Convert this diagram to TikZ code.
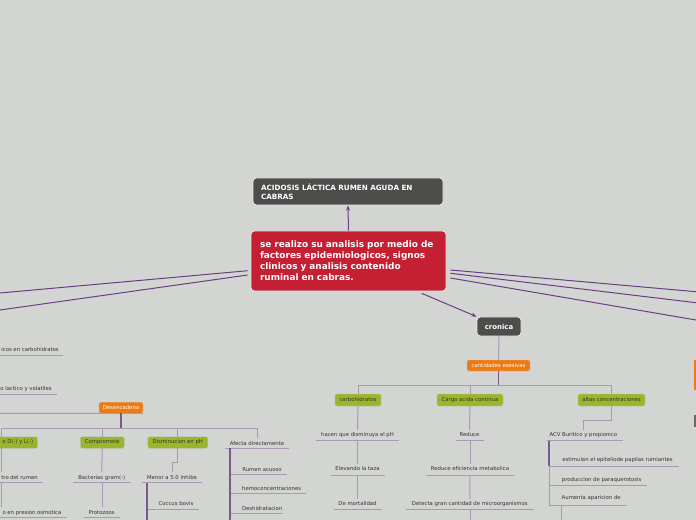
\documentclass[tikz,border=0pt]{standalone}
\usepackage{fontspec}
\setmainfont{DejaVu Sans}
\usetikzlibrary{arrows.meta}
\definecolor{bg}{RGB}{211,213,210}
\definecolor{darkbox}{RGB}{77,77,75}
\definecolor{redbox}{RGB}{197,31,52}
\definecolor{orangebox}{RGB}{238,122,18}
\definecolor{greenbox}{RGB}{155,182,43}
\definecolor{mainline}{RGB}{106,62,132}
\definecolor{treeline}{RGB}{168,153,180}
\definecolor{thickline}{RGB}{125,87,144}
\definecolor{leaftext}{RGB}{50,50,50}
\definecolor{boxedge}{RGB}{235,235,235}
\def\pw#1{#1*0.75pt}
\begin{document}
\begin{tikzpicture}[x=0.75pt,y=-0.75pt,
  bigbox/.style={rounded corners=2.5pt, inner ysep=0pt, draw=boxedge, line width=0.6pt},
  darkn/.style={bigbox, fill=darkbox, text=white},
  redn/.style={bigbox, fill=redbox, text=white},
  tag/.style={rounded corners=1.5pt, inner sep=0pt, font=\fontsize{4}{5}\selectfont, draw=black!25, line width=0.3pt},
  orangetag/.style={tag, fill=orangebox, text=white},
  greentag/.style={tag, fill=greenbox, text=leaftext},
  leaf/.style={inner xsep=0pt, inner ysep=2pt, font=\fontsize{4}{5}\selectfont, text=leaftext, anchor=base},
  leafe/.style={leaf, anchor=base east},
  conn/.style={draw=treeline, line width=0.75pt},
  thickc/.style={draw=thickline, line width=1.3pt},
  uline/.style={draw=treeline, line width=0.75pt},
  link/.style={draw=mainline, line width=0.75pt},
  arr/.style={link, -{Stealth[length=4pt,width=3pt]}}
]
\useasboundingbox (0,0) rectangle (696,520);
\fill[bg] (0,0) rectangle (696,520);

% ---------- main nodes ----------
\node[darkn, minimum width=\pw{190}, minimum height=\pw{27}, inner xsep=\pw{8}, text width=\pw{174}, align=left,
      font=\fontsize{5.4}{6.6}\selectfont\bfseries] (title) at (348,191.5)
      {ACIDOSIS LÁCTICA RUMEN AGUDA EN\\CABRAS};
\node[redn, minimum width=\pw{195}, minimum height=\pw{60}, inner xsep=\pw{9}, text width=\pw{177}, align=left,
      font=\fontsize{6.7}{8.3}\selectfont\bfseries] (main) at (348.5,261)
      {se realizo su analisis por medio de\\factores epidemiologicos, signos\\clinicos y analisis contenido\\ruminal en cabras.};
\node[darkn, minimum width=\pw{44}, minimum height=\pw{19}, inner xsep=0pt,
      font=\fontsize{5.2}{6}\selectfont\bfseries] (cronica) at (499,326.5) {cronica};

\draw[arr] (main.north) -- (title.south);
\draw[arr] ([xshift=55pt,yshift=-1.5pt]main.south) -- (cronica.north west);

% free ends at the picture edges
\coordinate (eL1) at (0,293);
\coordinate (eL2) at (0,310);
\coordinate (eR1) at (696,291.7);
\coordinate (eR2) at (696,302.7);
\coordinate (eR3) at (696,320);
\draw[link] ([xshift=-2.25pt,yshift=-7.3pt]main.west) -- (eL1);
\draw[link] ([xshift=-2.25pt,yshift=-10.5pt]main.west) -- (eL2);
\draw[link] ([xshift=3pt,yshift=-6.75pt]main.east) -- (eR1);
\draw[link] ([xshift=3pt,yshift=-9.2pt]main.east) -- (eR2);
\draw[link] ([xshift=3pt,yshift=-12.75pt]main.east) -- (eR3);

% partial nodes at the right edge
\node[fill=orangebox, inner sep=0pt, minimum width=\pw{10}, minimum height=\pw{30}] (redge1) at (699.3,375) {};
\node[fill=darkbox!85, inner sep=0pt, minimum width=\pw{10}, minimum height=\pw{12}] (redge2) at (699.3,421) {};

% ---------- cronica branch ----------
\node[orangetag, minimum width=\pw{63}, minimum height=\pw{11}] (cant) at (498.5,365.5) {cantidades esesivas};
\draw[conn] (cronica.south) -- (cant.north);
\coordinate (cbar) at (498.5,385);
\draw[thickc] (cant.south) -- (cbar);

\node[greentag, minimum width=\pw{46}, minimum height=\pw{12}] (carb) at (358,400) {carbohidratos};
\node[greentag, minimum width=\pw{66}, minimum height=\pw{12}] (carga) at (470,400) {Carga acida continua};
\node[greentag, minimum width=\pw{67}, minimum height=\pw{12}] (altas) at (611.5,400) {altas concentraciones};
\draw[conn] (carb.north) |- (cbar);
\draw[conn] (carga.north) |- (cbar);
\draw[conn] (altas.north) |- (cbar);

% carbohidratos chain
\node[leaf] (hacen) at (357.5,436.8) {hacen que disminuya el pH};
\draw[uline] (315.7,440) -- (399,440);
\node[leaf] (elev) at (357.5,470.8) {Elevando la taza};
\draw[uline] (331,475) -- (384.7,475);
\node[leaf] (mort) at (357.5,505.8) {De mortalidad};
\draw[uline] (334,509.7) -- (381.7,509.7);
\draw[conn] (carb.south) -- (hacen.north);
\draw[conn] (357.5,440) -- (elev.north);
\draw[conn] (357.5,475) -- (mort.north);

% carga chain
\node[leaf] (red1) at (469.5,436.8) {Reduce};
\draw[uline] (455.7,440) -- (484.3,440);
\node[leaf] (red2) at (470,470.8) {Reduce eficiencia metabolica};
\draw[uline] (426,475) -- (514,475);
\node[leaf] (detec) at (469.8,505.8) {Detecta gran cantidad de microorganismos};
\draw[uline] (406,509.7) -- (533.7,509.7);
\coordinate (detecend) at (470,522);
\draw[conn] (carga.south) -- (red1.north);
\draw[conn] (470,440) -- (red2.north);
\draw[conn] (470,475) -- (detec.north);
\draw[conn] (470,509.7) -- (detecend);

% altas chain
\node[leaf] (acv) at (583.3,436.8) {ACV Buritico y propionico};
\draw[uline] (547,440.7) -- (622.7,440.7);
\coordinate (abend) at (583.3,420);
\draw[conn] (altas.south) |- (abend) -- (acv.north);
\node[leaf] (estim) at (617.5,461.8) {estimulan el epiteliode papilas rumiantes};
\node[leaf] (prod) at (601.7,481.8) {produccion de paraquerotosis};
\node[leaf] (aum) at (591.2,499.8) {Aumenta aparicion de};
\draw[thickc] (549,440.7) -- (549,466);
\draw[conn] (549,466) -- (549,505);
\draw[uline] (549,466) -- (679,466);
\draw[uline] (549,485) -- (647,485);
\draw[uline] (549,505) -- (626.7,505);
\coordinate (aumend) at (561.7,522);
\draw[conn] (561.7,505) -- (aumend);

% ---------- left part ----------
\node[leafe] (carbo2) at (59,351.8) {icos en carbohidratos};
\draw[uline] (0,355) -- (63.3,355);
\node[leafe] (lact) at (52,390.8) {o lactico y volatiles};
\draw[uline] (0,394) -- (56.7,394);

\node[orangetag, minimum width=\pw{44}, minimum height=\pw{11}] (des) at (121,407.7) {Desencadena};
\draw[uline] (0,413.3) -- (des.south east);
\coordinate (dbar) at (121,428.3);
\draw[thickc] (des.south) -- (dbar);

\node[greentag, minimum width=\pw{72}, minimum height=\pw{11.5}, text width=\pw{63.2}, align=right] (dl) at (1.7,442.5) {o D(-) y L(-)};
\node[greentag, minimum width=\pw{44}, minimum height=\pw{11.5}] (comp) at (102.3,442.5) {Compromete};
\node[greentag, minimum width=\pw{60}, minimum height=\pw{11.5}] (dism) at (177.8,442.5) {Disminucion en pH};
\node[leaf] (afecta) at (257,445.1) {Afecta directamente};
\draw[uline] (225,448.3) -- (289.3,448.3);
\draw[conn] (dl.north) |- (dbar);
\draw[conn] (comp.north) |- (dbar);
\draw[conn] (dism.north) |- (dbar);
\draw[conn] (afecta.north) |- (dbar);

% D(-) y L(-) chain
\node[leafe] (rumen) at (38,479.1) {tro del rumen};
\draw[uline] (0,482.7) -- (43.3,482.7);
\node[leafe] (osm) at (61.7,514.1) {o en presion osmotica};
\draw[uline] (0,517.3) -- (66.7,517.3);
\coordinate (dlu) at (1.7,482.7);
\draw[conn] (dl.south) -- (dl.south |- rumen.north);
\draw[conn] (dlu) -- (dlu |- osm.north);

% Compromete chain
\node[leaf] (bact) at (101.7,479.1) {Bacterias gram(-)};
\draw[uline] (73.3,482.7) -- (130.7,482.7);
\node[leaf] (proto) at (101.7,514.1) {Protozoos};
\draw[uline] (84.3,517.3) -- (120,517.3);
\coordinate (bactu) at (102,482.7);
\draw[conn] (comp.south) -- (bact.north);
\draw[conn] (bactu) -- (bactu |- proto.north);

% Disminucion chain
\node[leaf] (menor) at (172,479.1) {Menor a 5.0 inhibe};
\draw[uline] (142.3,482.7) -- (202,482.7);
\coordinate (dbend) at (172,462);
\draw[conn] (dism.south) |- (dbend) -- (menor.north);
\node[leaf] (cocc) at (176,505.1) {Coccus bovis};
\draw[uline] (146.7,509) -- (199,509);
\coordinate (menorend) at (146.7,522);
\draw[thickc] (146.7,482.7) -- (menorend);

% Afecta chain
\node[leaf] (acuoso) at (262,471.1) {Rumen acuoso};
\draw[uline] (230,474) -- (286.7,474);
\node[leaf] (hemo) at (271.7,490.1) {hemoconcentraciones};
\draw[uline] (230,493.3) -- (306,493.3);
\node[leaf] (desh) at (262.2,510.1) {Deshidratacion};
\draw[uline] (230,513.3) -- (283.3,513.3);
\coordinate (afectaend) at (230,522);
\draw[thickc] (230,448.3) -- (afectaend);
\end{tikzpicture}
\end{document}
